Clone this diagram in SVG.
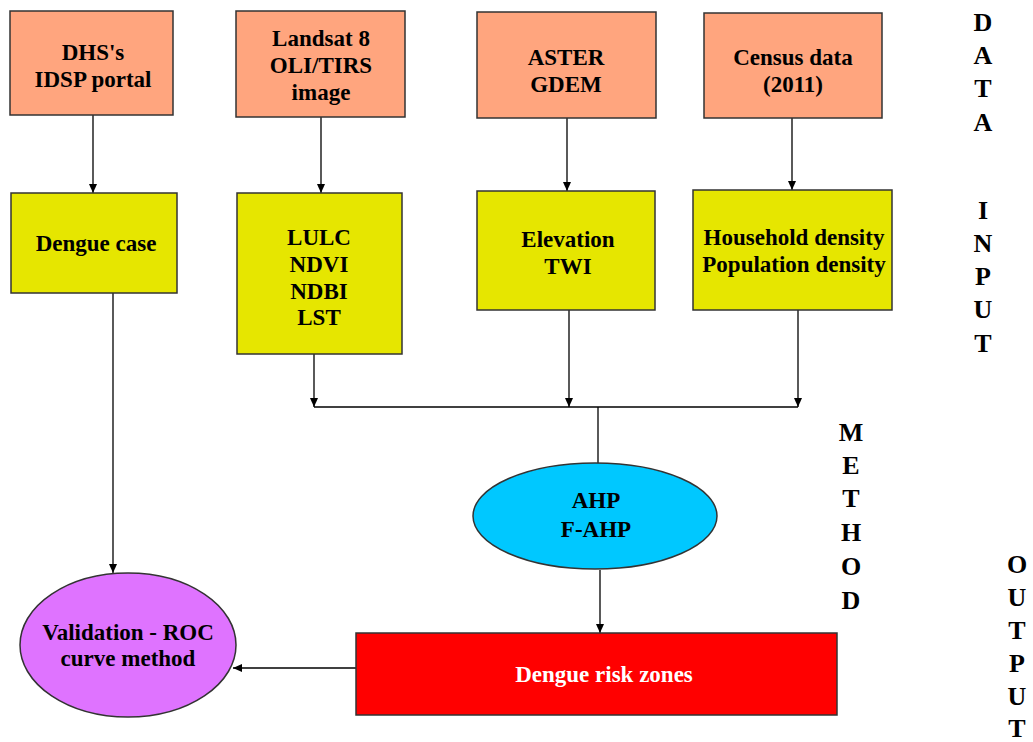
<svg xmlns="http://www.w3.org/2000/svg" width="1033" height="742" viewBox="0 0 1033 742">
<defs>
<marker id="ah" markerWidth="9" markerHeight="8" refX="9" refY="4" orient="auto" markerUnits="userSpaceOnUse">
<path d="M0,0 L9,4 L0,8 Z" fill="#000"/>
</marker>
<style>
text{font-family:"Liberation Serif","Times New Roman",serif;font-weight:bold;font-size:23px;fill:#000;text-anchor:middle}
.src{fill:#FFA57E;stroke:#333;stroke-width:1.5}
.var{fill:#E6E600;stroke:#333;stroke-width:1.5}
.c{stroke:#000;stroke-width:1.3;fill:none}
.ca{stroke:#000;stroke-width:1.3;fill:none;marker-end:url(#ah)}
.lab{font-size:26px}
.w{fill:#fff}
</style>
</defs>
<rect width="1033" height="742" fill="#fff"/>

<g id="connectors">
<line class="ca" x1="93" y1="115" x2="93" y2="193"/>
<line class="ca" x1="321" y1="117" x2="321" y2="193"/>
<line class="ca" x1="567" y1="118" x2="567" y2="191"/>
<line class="ca" x1="792" y1="118" x2="792" y2="190"/>
<line class="ca" x1="314" y1="354" x2="314" y2="407"/>
<line class="ca" x1="569" y1="310" x2="569" y2="407"/>
<line class="ca" x1="798" y1="310" x2="798" y2="407"/>
<line class="c" x1="314" y1="407" x2="798" y2="407"/>
<line class="c" x1="598" y1="407" x2="598" y2="463"/>
<line class="ca" x1="600" y1="570" x2="600" y2="633"/>
<line class="ca" x1="356" y1="668" x2="233" y2="668"/>
<line class="ca" x1="113" y1="293" x2="113" y2="573"/>
</g>

<g id="dhs"><rect class="src" x="10" y="11" width="163" height="104"/>
<text x="93" y="60">DHS's</text><text x="93" y="87">IDSP portal</text></g>
<g id="landsat"><rect class="src" x="236" y="11" width="169" height="106"/>
<text x="321" y="46">Landsat 8</text><text x="321" y="73">OLI/TIRS</text><text x="321" y="100">image</text></g>
<g id="aster"><rect class="src" x="477" y="12" width="179" height="106"/>
<text x="566" y="65">ASTER</text><text x="566" y="92">GDEM</text></g>
<g id="census"><rect class="src" x="704" y="13" width="178" height="105"/>
<text x="793" y="65">Census data</text><text x="793" y="92">(2011)</text></g>

<g id="dengue"><rect class="var" x="11" y="193" width="166" height="100"/>
<text x="96" y="251">Dengue case</text></g>
<g id="lulc"><rect class="var" x="237" y="193" width="165" height="161"/>
<text x="319" y="245">LULC</text><text x="319" y="272">NDVI</text><text x="319" y="299">NDBI</text><text x="319" y="325">LST</text></g>
<g id="elevation"><rect class="var" x="477" y="191" width="178" height="119"/>
<text x="568" y="247">Elevation</text><text x="568" y="274">TWI</text></g>
<g id="household"><rect class="var" x="693" y="190" width="199" height="120"/>
<text x="794" y="245">Household density</text><text x="794" y="272">Population density</text></g>

<g id="ahp"><ellipse cx="595" cy="516" rx="122" ry="53" fill="#00C8FF" stroke="#333" stroke-width="1.5"/>
<text x="596" y="508">AHP</text><text x="596" y="537">F-AHP</text></g>
<g id="risk"><rect x="356" y="633" width="481" height="82" fill="#FF0000" stroke="#333" stroke-width="1.5"/>
<text class="w" x="604" y="682">Dengue risk zones</text></g>
<g id="validation"><ellipse cx="128" cy="645" rx="108" ry="72" fill="#DF73FF" stroke="#333" stroke-width="1.5"/>
<text x="128" y="640">Validation - ROC</text><text x="128" y="666">curve method</text></g>

<g id="labels">
<text class="lab" x="983" y="31">D</text><text class="lab" x="983" y="64">A</text><text class="lab" x="983" y="97">T</text><text class="lab" x="983" y="131">A</text>
<text class="lab" x="983" y="219">I</text><text class="lab" x="983" y="252">N</text><text class="lab" x="983" y="285">P</text><text class="lab" x="983" y="318">U</text><text class="lab" x="983" y="352">T</text>
<text class="lab" x="851" y="441">M</text><text class="lab" x="851" y="474">E</text><text class="lab" x="851" y="507">T</text><text class="lab" x="851" y="541">H</text><text class="lab" x="851" y="575">O</text><text class="lab" x="851" y="609">D</text>
<text class="lab" x="1017" y="573">O</text><text class="lab" x="1017" y="606">U</text><text class="lab" x="1017" y="639">T</text><text class="lab" x="1017" y="672">P</text><text class="lab" x="1017" y="705">U</text><text class="lab" x="1017" y="737">T</text>
</g>
</svg>
